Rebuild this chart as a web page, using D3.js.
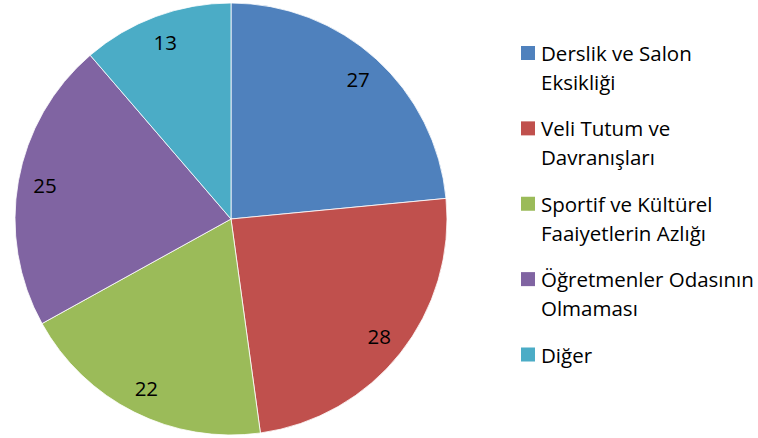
<!DOCTYPE html>
<html>
<head>
<meta charset="utf-8">
<script src="https://cdn.jsdelivr.net/npm/d3@7"></script>
<style>
  body { margin: 0; background: #fff; }
  text { font-family: "Open Sans", Lato, sans-serif; fill: #000; }
</style>
</head>
<body>
<svg id="chart" width="758" height="438"></svg>
<script>
// chart data
let categories = [
    ["Derslik ve Salon", "Eksikliği"],
    ["Veli Tutum ve", "Davranışları"],
    ["Sportif ve Kültürel", "Faaiyetlerin Azlığı"],
    ["Öğretmenler Odasının", "Olmaması"],
    ["Diğer"]
];
let values = [27, 28, 22, 25, 13];
let colors = ["#4F81BD", "#C0504D", "#9BBB59", "#8064A2", "#4BACC6"];

function drawPie() {
    var svg = d3.select("#chart");
    let cx = 231, cy = 219, radius = 216;

    let pie = d3.pie().sort(null).value(d => d);
    let arc = d3.arc().innerRadius(0).outerRadius(radius);
    let labelArc = d3.arc().innerRadius(189).outerRadius(189);

    var g = svg.append("g")
        .attr("transform", "translate(" + cx + "," + cy + ")");

    let slices = pie(values);

    g.selectAll("path")
        .data(slices)
        .enter()
        .append("path")
        .attr("d", arc)
        .style("fill", (d, i) => colors[i])
        .style("stroke", "#fff")
        .style("stroke-width", 0.8);

    // value labels, near the outer edge like excel's "best fit"
    g.selectAll("text.lbl")
        .data(slices)
        .enter()
        .append("text")
        .attr("class", "lbl")
        .attr("transform", d => "translate(" + labelArc.centroid(d) + ")")
        .attr("text-anchor", "middle")
        .attr("dy", "0.38em")
        .style("font-size", "20.5px")
        .text(d => d.data);
}

function drawLegend() {
    var svg = d3.select("#chart");
    let y = d3.scaleLinear().domain([0, 4]).range([61, 362.5]);

    let item = svg.selectAll("g.legend")
        .data(categories)
        .enter()
        .append("g")
        .attr("class", "legend")
        .attr("transform", (d, i) => "translate(0," + y(i) + ")");

    item.append("rect")
        .attr("x", 521)
        .attr("y", -15)
        .attr("width", 14)
        .attr("height", 14)
        .style("fill", (d, i) => colors[i]);

    item.each(function(lines) {
        let t = d3.select(this).append("text")
            .attr("x", 541)
            .style("font-size", "20.5px");
        lines.forEach(function(line, j) {
            t.append("tspan")
                .attr("x", 541)
                .attr("y", j * 29)
                .text(line);
        });
    });
}

drawPie();
drawLegend();
</script>
</body>
</html>
